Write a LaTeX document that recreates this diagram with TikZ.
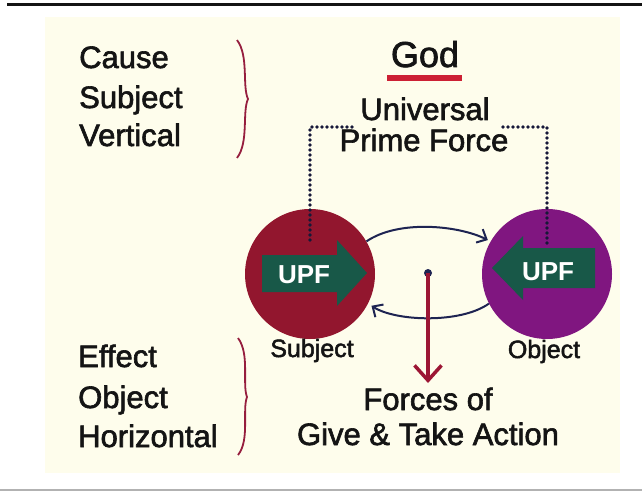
\documentclass[tikz,border=0pt]{standalone}
\usepackage{fontspec}
\setmainfont{Liberation Sans}
\newfontfamily\heavyfont{Liberation Sans}[FakeBold=2]
\usetikzlibrary{arrows.meta,calc}
\definecolor{cream}{RGB}{254,253,236}
\definecolor{inkblack}{RGB}{20,20,20}
\definecolor{subjred}{RGB}{146,22,46}
\definecolor{objpurple}{RGB}{128,22,128}
\definecolor{upfgreen}{RGB}{24,88,72}
\definecolor{swingblue}{RGB}{30,36,82}
\definecolor{dotblue}{RGB}{22,24,56}
\definecolor{bracered}{RGB}{150,30,62}
\definecolor{dropred}{RGB}{156,22,52}
\definecolor{godred}{RGB}{204,32,52}
\tikzset{
  lbl/.style={font=\heavyfont\fontsize{31}{35}\selectfont, text=inkblack, inner sep=0pt},
  god/.style={font=\heavyfont\fontsize{36}{40}\selectfont, text=inkblack, inner sep=0pt},
  tag/.style={font=\heavyfont\fontsize{25}{28}\selectfont, text=inkblack, inner sep=0pt},
  upf/.style={font=\bfseries\fontsize{26}{28}\selectfont, text=white, inner sep=0pt},
  ball/.style={circle, minimum size=130pt, inner sep=0pt},
  curly/.style={draw=bracered, line width=1.8pt},
  dotline/.style={draw=dotblue, line width=3.8pt, line cap=round, dash pattern=on 0pt off 5pt},
  swing/.style={draw=swingblue, line width=2pt, -{Straight Barb[length=8pt,width=15pt,line width=2pt]}},
  drop/.style={draw=dropred, line width=3.5pt, -{Straight Barb[length=15pt,width=27pt,line width=3.5pt]}}
}
\begin{document}
\begin{tikzpicture}[x=1pt,y=-1pt]
    \useasboundingbox (0,0) rectangle (642,492);
    % Page and panel
    \fill[white] (0,0) rectangle (642,492);
    \fill[cream] (45,17) rectangle (620,473);
    \draw[inkblack, line width=3pt] (7,5) -- (642,5);
    \draw[gray!60, line width=2pt] (0,490) -- (642,490);
    % Left: Cause / Subject / Vertical
    \node[lbl, anchor=base west] (cause) at (79,68) {Cause};
    \node[lbl, anchor=base west] (subjword) at (79,108) {Subject};
    \node[lbl, anchor=base west] (vertical) at (79,146) {Vertical};
    \draw[curly] (237,40) .. controls (249,56) and (242,86) .. (248,99) .. controls (242,112) and (249,142) .. (237,158);
    % Left: Effect / Object / Horizontal
    \node[lbl, anchor=base west] (effect) at (78,367) {Effect};
    \node[lbl, anchor=base west] (objword) at (78,408) {Object};
    \node[lbl, anchor=base west] (horizontal) at (78,447) {Horizontal};
    \draw[curly] (238,338) .. controls (250,354) and (242,384) .. (247,397) .. controls (242,410) and (250,440) .. (238,455);
    % Top: God and Universal Prime Force
    \node[god, anchor=base] (god) at (425,67) {God};
    \draw[godred, line width=6pt] (387,78) -- (462,78);
    \node[lbl, anchor=base] (univ) at (425,120) {Universal};
    \node[lbl, anchor=base] (prime) at (424,151) {Prime Force};
    % Subject and object
    \node[ball, fill=subjred] (subj) at (310,274) {};
    \node[ball, fill=objpurple] (obj) at (547,274) {};
    \fill[upfgreen] (262,255) -- (337,255) -- (337,240) -- (367,273) -- (337,306) -- (337,292) -- (262,292) -- cycle;
    \fill[upfgreen] (595,248) -- (523,248) -- (523,236) -- (492,268) -- (523,300) -- (523,288) -- (595,288) -- cycle;
    \node[upf, anchor=base] (upfL) at (304,283) {UPF};
    \node[upf, anchor=base] (upfR) at (548,280) {UPF};
    \node[tag, anchor=base] (subjtag) at (312,357) {Subject};
    \node[tag, anchor=base] (objtag) at (544,358) {Object};
    % Dotted links to the prime force
    \coordinate (primeL) at (352,127);
    \coordinate (primeR) at (503,127);
    \draw[dotline] (primeL) -| ($(subj.center)+(0,-30)$);
    \draw[dotline] (primeR) -| ($(obj.center)+(0,-30)$);
    % Give and take
    \draw[swing, shorten >=3pt] (subj.30) .. controls +(32,-22) and +(-32,-16) .. (obj.150);
    \draw[swing, shorten >=4pt] (obj.207) .. controls +(-28,20) and +(28,18) .. (subj.333);
    \node[circle, fill=swingblue, minimum size=8pt, inner sep=0pt] (pivot) at (428,273) {};
    \coordinate (dropend) at (428,383);
    \draw[drop] (pivot.center) -- (dropend);
    % Bottom: Forces of Give & Take Action
    \node[lbl, anchor=base] (forces) at (428,410) {Forces of};
    \node[lbl, anchor=base] (action) at (428,445) {Give \& Take Action};
\end{tikzpicture}
\end{document}
